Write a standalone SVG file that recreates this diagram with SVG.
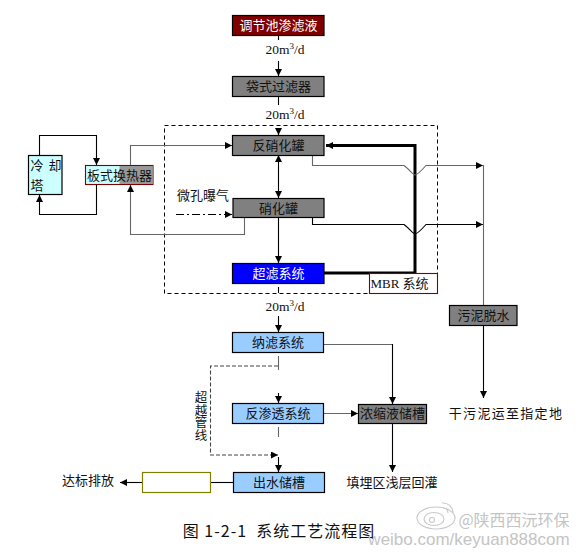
<svg xmlns="http://www.w3.org/2000/svg" width="576" height="555" viewBox="0 0 576 555">
<style>
text{font-family:"Noto Sans CJK SC","Liberation Serif",sans-serif;font-size:13px;fill:#111;text-anchor:middle}
.n{stroke:#000;stroke-width:1.2}
.g{fill:#808080}.b{fill:#99ccff}
.c{fill:none;stroke:#000;stroke-width:1.1}
.y{fill:none;stroke:#666;stroke-width:1.1}
.q{font-family:"Liberation Serif",serif;font-size:13.5px}
.w{fill:#c4c4c4;stroke:none}
</style>
<defs>
<marker id="a" markerWidth="8" markerHeight="7" refX="7" refY="3.5" orient="auto" markerUnits="userSpaceOnUse"><path d="M0,0L7,3.5L0,7z" fill="#000"/></marker>
<marker id="s" markerWidth="8" markerHeight="7" refX="1" refY="3.5" orient="auto" markerUnits="userSpaceOnUse"><path d="M8,0L1,3.5L8,7z" fill="#000"/></marker>
</defs>
<rect width="576" height="555" fill="#fff"/>
<g id="system-boundary"><rect x="164.500" y="125.500" width="273" height="168" fill="none" stroke="#000" stroke-dasharray="4 3"/></g>
<g id="connectors">
<path class="c" d="M278.500,36V40"/>
<path class="c" d="M278.500,61V76" marker-end="url(#a)"/>
<path class="c" d="M278.500,97V105"/>
<path class="c" d="M278.500,130V135" marker-end="url(#a)"/>
<path class="c" d="M278.500,155V198" marker-start="url(#s)" marker-end="url(#a)"/>
<path class="c" d="M278.500,217V263" marker-end="url(#a)"/>
<path class="c" d="M278.500,287V293"/>
<path class="c" d="M278.500,316V332" marker-end="url(#a)"/>
<path d="M324,273H415V145.500H326" fill="none" stroke="#000" stroke-width="3" marker-end="url(#a)"/>
<path class="y" d="M312.500,155V165.500H404C410,170 413,175 415,175C417,175 422,170 426,165.500H483" marker-end="url(#a)"/>
<path class="c" d="M312.500,214V224.500H404C410,229 413,234 415,234C417,234 422,229 426,224.500H483" marker-end="url(#a)"/>
<path class="y" d="M483.500,165V305"/>
<path class="c" d="M483.500,325V398" marker-end="url(#a)"/>
<path class="c" d="M39.500,155V135.500H96.500V165" marker-end="url(#a)"/>
<path class="c" d="M96.500,185V214.500H39.500V195" marker-end="url(#a)"/>
<path class="y" d="M130.500,165V145.500H232" marker-end="url(#a)"/>
<path class="y" d="M244.500,214V234.500H130.500V185" marker-end="url(#a)"/>
<path class="c" d="M176,214.500H232" stroke-dasharray="8 3 2 3" marker-end="url(#a)"/>
<path class="y" d="M324,344.500H392.500" stroke-width="1.400"/>
<path class="c" d="M392.500,344V404" marker-end="url(#a)"/>
<path class="y" d="M324,413.500H358" stroke-width="1.400" marker-end="url(#a)"/>
<path class="c" d="M392.500,424V472" marker-end="url(#a)"/>
<path class="y" d="M278.500,356V370"/>
<path class="c" d="M278.500,393V403" marker-end="url(#a)"/>
<path class="y" d="M278.500,427V437"/>
<path class="c" d="M278.500,457V472" marker-end="url(#a)"/>
<path d="M278,366H210.500V455H278" fill="none" stroke="#444" stroke-width="1.100" stroke-dasharray="4 2" marker-end="url(#a)"/>
<path class="c" d="M233,482.500H211"/>
<path class="c" d="M142,482.500H120" marker-end="url(#a)"/>
</g>
<g id="tiaojie"><rect class="n" x="232.500" y="15.500" width="91.500" height="20" fill="#800000"/><text x="278.500" y="30" style="fill:#fff">调节池渗滤液</text></g>
<g id="daishi"><rect class="n g" x="232.500" y="76.500" width="91.500" height="20"/><text x="278.500" y="91">袋式过滤器</text></g>
<g id="fanxiaohua"><rect class="n g" x="232.500" y="135.500" width="91.500" height="20"/><text x="278.500" y="150">反硝化罐</text></g>
<g id="xiaohua"><rect class="n g" x="233" y="198.500" width="91" height="19"/><text x="278.500" y="213">硝化罐</text></g>
<g id="chaolv"><rect class="n" x="232.500" y="263.500" width="91.500" height="20" fill="#0000ff"/><text x="278.500" y="278" style="fill:#fff">超滤系统</text></g>
<g id="mbr"><rect x="369.500" y="273.500" width="68" height="20" fill="#fff" stroke="#800000" stroke-width="1.100"/><text x="399.500" y="288" style="font-family:'Liberation Serif','Noto Sans CJK SC',serif">MBR 系统</text></g>
<g id="lengque"><rect class="n" x="28.500" y="155.500" width="33.500" height="39" fill="#ccffff"/><text x="37" y="170">冷</text><text x="55" y="170">却</text><text x="37" y="190">塔</text></g>
<g id="banshi"><rect x="85.500" y="165.500" width="67.500" height="19" fill="#ccffff" stroke="#800000" stroke-width="1.100"/><rect x="119.500" y="166" width="33" height="18" fill="#999"/><text x="119.500" y="180">板式换热器</text></g>
<g id="wuni"><rect class="n g" x="449.500" y="305.500" width="67.500" height="20"/><text x="483.500" y="320">污泥脱水</text></g>
<g id="nalv"><rect class="n b" x="232.500" y="332.500" width="91" height="20"/><text x="278" y="347">纳滤系统</text></g>
<g id="fanshentou"><rect class="n b" x="232.500" y="403.500" width="91" height="20"/><text x="278" y="418">反渗透系统</text></g>
<g id="nongsuo"><rect class="n g" x="358.500" y="404.500" width="68" height="19"/><text x="392.500" y="418">浓缩液储槽</text></g>
<g id="chushui"><rect class="n b" x="233.500" y="472.500" width="91" height="20"/><text x="279" y="487">出水储槽</text></g>
<g id="blank"><rect x="142.500" y="472.500" width="68" height="20" fill="#fff" stroke="#808000" stroke-width="1.200"/></g>
<g id="labels">
<text class="q" x="285" y="54">20m<tspan font-size="9" dy="-5">3</tspan><tspan dy="5">/d</tspan></text>
<text class="q" x="285" y="119">20m<tspan font-size="9" dy="-5">3</tspan><tspan dy="5">/d</tspan></text>
<text class="q" x="285" y="310.500">20m<tspan font-size="9" dy="-5">3</tspan><tspan dy="5">/d</tspan></text>
<text x="203" y="200">微孔曝气</text>
<text x="88" y="485">达标排放</text>
<text x="201" y="391" style="writing-mode:vertical-rl;text-anchor:start;font-size:12.500px">超越管线</text>
<text x="506" y="418" style="letter-spacing:1.300px">干污泥运至指定地</text>
<text x="392" y="487">填埋区浅层回灌</text>
<text x="279" y="537" style="font-size:16px;letter-spacing:1px;white-space:pre">图 1-2-1  系统工艺流程图</text>
</g>
<g id="watermark" fill="none" stroke="#c8c8c8" stroke-width="1.100">
<ellipse cx="436" cy="518" rx="19" ry="11"/><ellipse cx="434" cy="519" rx="10" ry="6.500"/><circle cx="432" cy="520" r="2.500"/>
<path d="M442,503A10,10 0 0 1 453,513M443,508A5,5 0 0 1 448,513"/>
<text class="w" x="514" y="526" style="font-size:16px">@陕西西沅环保</text>
<text class="w" x="469" y="545" style="font-size:17px;font-family:'Liberation Sans',sans-serif">weibo.com/keyuan888com</text>
</g>
</svg>
